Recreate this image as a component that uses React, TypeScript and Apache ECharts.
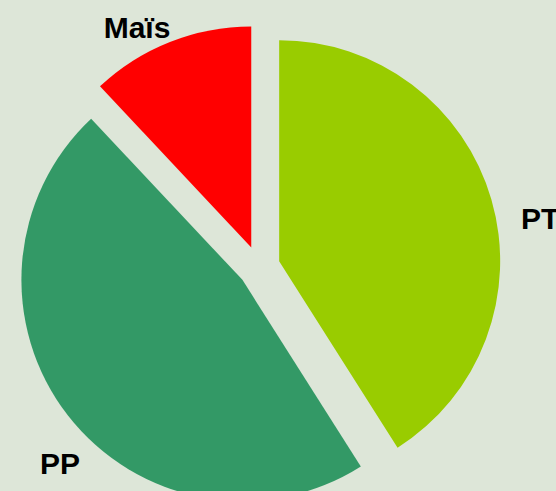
import React, { useEffect, useRef } from "react";
import * as echarts from "echarts";

const categories = ["PT", "PP", "Maïs"];
const values = [41, 47, 12];
const colors = ["#99cc00", "#339966", "#ff0000"];

// label anchor layout (page pixels): [x, y, align]
const labelSpots: [number, number, string][] = [
  [521, 218, "left"],
  [60, 463, "center"],
  [137, 27, "center"],
];

export default function App() {
  const ref = useRef<HTMLDivElement>(null);
  useEffect(() => {
    if (!ref.current) return;
    const chart = echarts.init(ref.current, undefined, { renderer: "svg" });
    const labelStyle = {
      color: "#000000",
      fontFamily: "Arial, 'Liberation Sans', sans-serif",
      fontWeight: "bold",
      fontSize: 30,
    };
    const center = [259, 267];
    const radius = 221;
    chart.setOption({
      animation: false,
      backgroundColor: "#dde6d8",
      series: [
        {
          type: "pie",
          center,
          radius,
          startAngle: 90,
          clockwise: true,
          selectedMode: "multiple",
          selectedOffset: 21,
          avoidLabelOverlap: false,
          emphasis: { disabled: true },
          itemStyle: { borderWidth: 0 },
          labelLine: { show: false },
          label: { show: false },
          data: categories.map((name, i) => ({
            name,
            value: values[i],
            selected: true,
            itemStyle: { color: colors[i] },
          })),
        },
        {
          type: "pie",
          silent: true,
          center,
          radius,
          startAngle: 90,
          clockwise: true,
          selectedMode: false,
          avoidLabelOverlap: false,
          emphasis: { disabled: true },
          itemStyle: { color: "rgba(0,0,0,0)", borderWidth: 0 },
          labelLine: { show: false },
          label: {
            show: true,
            position: "outside",
            formatter: "{b}",
            ...labelStyle,
          },
          labelLayout: (params: any) => {
            const s = labelSpots[params.dataIndex];
            return { x: s[0], y: s[1], align: s[2], verticalAlign: "middle", hideOverlap: false };
          },
          data: categories.map((name, i) => ({ name, value: values[i] })),
        },
      ],
    });
    return () => chart.dispose();
  }, []);
  return (
    <div
      ref={ref}
      style={{ position: "fixed", left: 0, top: 0, width: 556, height: 491 }}
    />
  );
}
